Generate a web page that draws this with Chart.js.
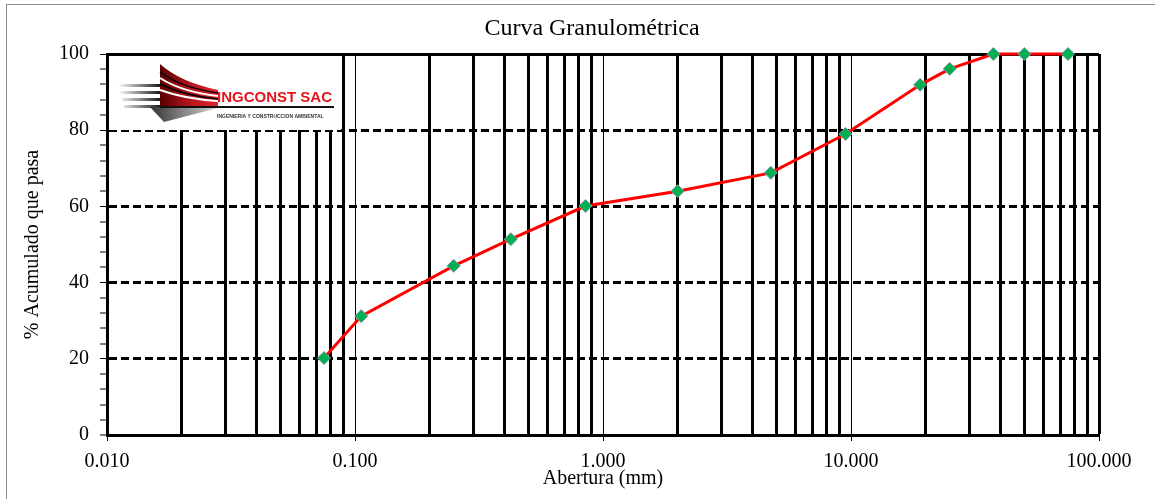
<!doctype html>
<html>

<head>
	<meta charset="utf-8">
	<title>Curva Granulométrica</title>
	<script src="https://cdn.jsdelivr.net/npm/chart.js@4/dist/chart.umd.min.js"></script>
	<style>
		html, body {
			margin: 0;
			padding: 0;
			background: #fff;
		}
		#wrap {
			width: 1155px;
			height: 499px;
		}
	</style>
</head>

<body>
	<div id="wrap">
		<canvas id="canvas" width="1155" height="499"></canvas>
	</div>
	<script>
		// aberturas de tamiz (mm) y % acumulado que pasa
		const aberturas = [0.075, 0.106, 0.25, 0.425, 0.85, 2.0, 4.75, 9.5, 19.0, 25.0, 37.5, 50.0, 75.0];
		const pasa = [20.2, 31.2, 44.4, 51.4, 60.1, 64.0, 68.8, 79.0, 91.9, 96.1, 100, 100, 100];

		// ticks del eje x (1..9 por decada) y del eje y
		const xDecadas = [-2, -1, 0, 1];
		const xTicks = [];
		xDecadas.forEach((e) => {
			for (let m = 1; m <= 9; m++) {
				xTicks.push(Number((m * Math.pow(10, e)).toPrecision(3)));
			}
		});
		xTicks.push(100);
		const yMin = 0;
		const yMax = 100;
		const yPaso = 4;
		const yEtiqueta = 20;

		const serif = "'Liberation Serif', 'Times New Roman', serif";

		const isDecade = (v) => Math.abs(Math.log10(v) - Math.round(Math.log10(v))) < 1e-9;

		// marco gris exterior + centrar el titulo como en el original
		const frame = {
			id: 'frame',
			afterLayout(chart) {
				if (chart.titleBlock) {
					chart.titleBlock.left = 29;
					chart.titleBlock.right = 1155;
				}
			},
			beforeDraw(chart) {
				const ctx = chart.ctx;
				ctx.save();
				ctx.strokeStyle = '#8c8c8c';
				ctx.lineWidth = 1;
				ctx.strokeRect(6.5, 4.5, 1200, 600);
				ctx.restore();
			}
		};

		// logo de la empresa sobre la rejilla
		const logo = {
			id: 'logo',
			beforeDatasetsDraw(chart) {
				const ctx = chart.ctx;
				ctx.save();
				ctx.fillStyle = '#fff';
				ctx.fillRect(109, 56, 232, 74);

				// barras negras a la izquierda
				[84, 91, 98, 105].forEach((y, i) => {
					const g = ctx.createLinearGradient(118, 0, 165, 0);
					g.addColorStop(0, 'rgba(0,0,0,0)');
					g.addColorStop(1, '#000');
					ctx.fillStyle = g;
					ctx.fillRect(118 + i * 2, y, 48 - i * 2, 3);
				});

				// ala roja
				const r = ctx.createLinearGradient(160, 0, 218, 0);
				r.addColorStop(0, '#5a0000');
				r.addColorStop(0.5, '#b0141c');
				r.addColorStop(1, '#e3242b');
				ctx.fillStyle = r;
				ctx.beginPath();
				ctx.moveTo(160, 64);
				ctx.quadraticCurveTo(180, 82, 218, 90);
				ctx.lineTo(218, 106);
				ctx.lineTo(160, 106);
				ctx.closePath();
				ctx.fill();

				ctx.strokeStyle = '#fff';
				ctx.lineWidth = 2;
				ctx.beginPath();
				ctx.moveTo(160, 78);
				ctx.quadraticCurveTo(182, 92, 218, 96);
				ctx.moveTo(160, 90);
				ctx.quadraticCurveTo(185, 99, 218, 101);
				ctx.stroke();

				ctx.strokeStyle = '#000';
				ctx.lineWidth = 1.5;
				ctx.beginPath();
				ctx.moveTo(160, 72);
				ctx.quadraticCurveTo(182, 88, 218, 93);
				ctx.moveTo(160, 84);
				ctx.quadraticCurveTo(185, 96, 218, 99);
				ctx.stroke();

				// cuna gris inferior
				const gr = ctx.createLinearGradient(150, 0, 220, 0);
				gr.addColorStop(0, '#333');
				gr.addColorStop(1, '#ddd');
				ctx.fillStyle = gr;
				ctx.beginPath();
				ctx.moveTo(150, 107);
				ctx.lineTo(218, 108);
				ctx.lineTo(164, 122);
				ctx.closePath();
				ctx.fill();

				// linea bajo el nombre
				ctx.strokeStyle = '#111';
				ctx.lineWidth = 2;
				ctx.beginPath();
				ctx.moveTo(160, 107);
				ctx.lineTo(334, 107);
				ctx.stroke();

				ctx.fillStyle = '#e3141c';
				ctx.font = "bold 15px 'Liberation Sans', Arial, sans-serif";
				ctx.textBaseline = 'alphabetic';
				ctx.fillText('INGCONST SAC', 217, 102, 116);

				ctx.fillStyle = '#333';
				ctx.font = "bold 5px 'Liberation Sans', Arial, sans-serif";
				ctx.fillText('INGENIERIA Y CONSTRUCCION AMBIENTAL', 217, 118, 114);
				ctx.restore();
			}
		};

		const config = {
			type: 'line',
			data: {
				datasets: [{
					label: 'Curva',
					data: aberturas.map((x, i) => ({x: x, y: pasa[i]})),
					borderColor: '#ff0000',
					borderWidth: 3,
					backgroundColor: '#00b050',
					pointStyle: 'rectRot',
					pointRadius: 6.5,
					pointHoverRadius: 6.5,
					pointBackgroundColor: '#00b050',
					pointBorderColor: '#8093aa',
					pointBorderWidth: 1,
					tension: 0,
					clip: false
				}]
			},
			options: {
				responsive: false,
				animation: false,
				layout: {
					padding: {left: 0, right: 56, top: 0, bottom: 0}
				},
				plugins: {
					legend: {display: false},
					tooltip: {enabled: false},
					title: {
						display: true,
						text: 'Curva Granulométrica',
						color: '#000',
						font: {family: serif, size: 24, weight: 'normal'},
						padding: {top: 14, bottom: 11.2}
					}
				},
				scales: {
					x: {
						type: 'logarithmic',
						min: 0.01,
						max: 100,
						afterBuildTicks(scale) {
							scale.ticks = xTicks.map((v) => ({value: v}));
						},
						afterFit(scale) {
							scale.height = 64;
						},
						ticks: {
							autoSkip: false,
							maxRotation: 0,
							color: '#000',
							padding: 9,
							font: {family: serif, size: 20},
							callback: (v) => (isDecade(v) ? Number(v).toFixed(3) : '')
						},
						grid: {
							color: '#000',
							lineWidth: (c) => {
								if (!c.tick) return 1;
								if (c.tick.value === 100) return 3;
								return isDecade(c.tick.value) ? 1 : 3;
							},
							tickLength: 6,
							tickWidth: 1,
							tickColor: (c) => (c.tick && isDecade(c.tick.value) ? '#000' : 'rgba(0,0,0,0)')
						},
						border: {color: '#000', width: 3},
						title: {
							display: true,
							text: 'Abertura (mm)',
							color: '#000',
							font: {family: serif, size: 20},
							padding: {top: 0, bottom: 8}
						}
					},
					y: {
						min: yMin,
						max: yMax,
						afterFit(scale) {
							scale.width = 107;
						},
						ticks: {
							stepSize: yPaso,
							autoSkip: false,
							color: '#000',
							padding: 11,
							font: {family: serif, size: 20},
							callback: (v) => (v % yEtiqueta === 0 ? String(v) : '')
						},
						grid: {
							color: '#000',
							lineWidth: (c) => {
								if (!c.tick) return 1;
								const v = c.tick.value;
								return v > 0 && v % yEtiqueta === 0 ? 3 : 0;
							},
							tickLength: 7,
							tickWidth: 1,
							tickColor: '#000'
						},
						border: {
							color: '#000',
							width: 3,
							dash: (c) => (c.tick && c.tick.value < 100 ? [8, 4] : [])
						},
						title: {
							display: true,
							text: '% Acumulado que pasa',
							color: '#000',
							font: {family: serif, size: 20},
							padding: {top: 21, bottom: 0}
						}
					}
				}
			},
			plugins: [frame, logo]
		};

		window.onload = function() {
			window.myChart = new Chart(document.getElementById('canvas'), config);
		};
	</script>
</body>

</html>
